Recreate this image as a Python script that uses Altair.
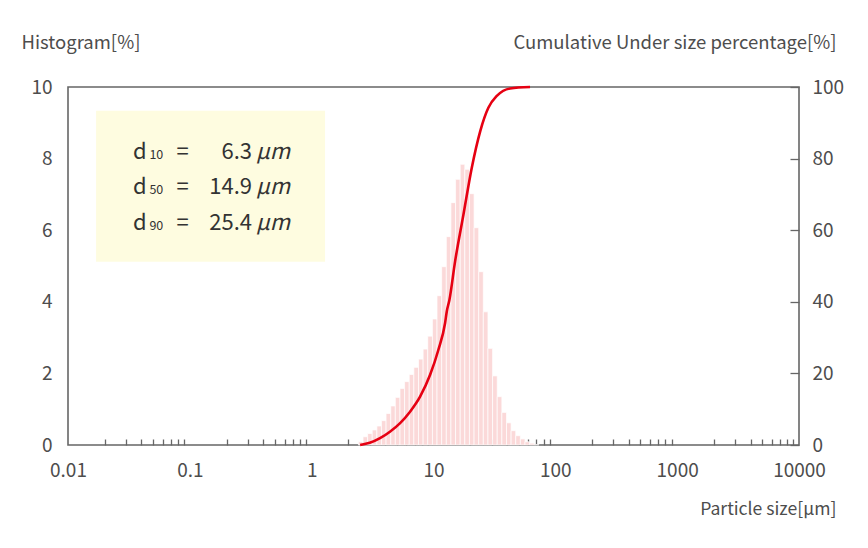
import altair as alt
import pandas as pd

# histogram bins (particle size, µm) and frequency (%)
BIN_EDGES = [2.42, 2.64, 2.88, 3.14, 3.43, 3.74, 4.08, 4.46, 4.86, 5.31,
             5.79, 6.32, 6.90, 7.53, 8.22, 8.97, 9.80, 10.69, 11.67, 12.74,
             13.90, 15.17, 16.56, 18.07, 19.72, 21.53, 23.50, 25.64, 27.99, 30.55,
             33.34, 36.39, 39.72, 43.35, 47.32, 51.64, 56.36, 61.52, 67.14, 73.28]
HIST_PCT = [0.09, 0.23, 0.32, 0.42, 0.53, 0.68, 0.88, 1.09, 1.33, 1.58,
            1.77, 1.97, 2.17, 2.40, 2.68, 3.04, 3.52, 4.17, 4.98, 5.82,
            6.77, 7.42, 7.84, 7.70, 7.02, 6.07, 4.84, 3.72, 2.70, 1.93,
            1.35, 0.91, 0.62, 0.40, 0.26, 0.17, 0.09, 0.05, 0.01]

# cumulative undersize curve
CUM_SIZE = [2.50, 3.00, 3.64, 4.39, 5.32, 6.42, 7.76, 9.38, 10.97, 12.45,
            12.85, 13.52, 15.04, 17.6, 20.6, 24.2, 28.2, 33.1, 42.6, 62.0]
CUM_PCT = [0.0, 0.6, 1.9, 3.7, 6.1, 9.3, 13.5, 19.6, 26.6, 34.1,
           37.3, 40.6, 51.3, 64.3, 77.4, 87.7, 94.2, 97.5, 99.6, 100.0]

DECADES = [0.01, 0.1, 1, 10, 100, 1000, 10000]
MINOR_STEPS = [2, 3, 4, 5, 6, 7, 8, 9]
HIST_TICKS = [0, 2, 4, 6, 8, 10]
CUM_TICKS = [0, 20, 40, 60, 80, 100]

D_SUBS = ["10", "50", "90"]
D_VALUES = ["6.3", "14.9", "25.4"]
D_ROWS = [8, 7, 6]

FONT = "Noto Sans CJK JP"
TEXT_GREY = "#4d4d4d"
FRAME_GREY = "#666666"
RED = "#e60012"

x_ticks = DECADES + [round(m * d, 6) for d in DECADES[:-1] for m in MINOR_STEPS]
is_decade = "abs(log(datum.value)/LN10 - round(log(datum.value)/LN10)) < 0.001"

# every layer gets the same explicit domains, so independent scales line up exactly
x_scale = alt.Scale(type="log", domain=[0.01, 10000])
y_hist = alt.Scale(domain=[0, 10])
y_cum = alt.Scale(domain=[0, 100])

x_axis = alt.Axis(
    values=x_ticks, format="~g", labelExpr=f"{is_decade} ? datum.label : ''",
    labelFlush=False, labelOverlap=False, labelPadding=16,
    offset=-6, tickSize=6, domain=False,
    gridOpacity={"condition": {"test": is_decade, "value": 1}, "value": 0},
    tickOpacity={"condition": {"test": is_decade, "value": 0}, "value": 1},
    title="Particle size[µm]", titleAlign="right", titleAnchor="start",
    titleX=768, titleY=75, titleBaseline="alphabetic", titleFontSize=17.6,
)
left_axis = alt.Axis(
    orient="left", values=HIST_TICKS, tickSize=0, ticks=False, domain=False, labelPadding=16,
    title="Histogram[%]", titleAngle=0, titleAlign="left", titleAnchor="start",
    titleX=-47, titleY=-39, titleBaseline="alphabetic",
)
right_axis = alt.Axis(
    orient="right", values=CUM_TICKS, offset=-9, tickSize=9, domain=False,
    grid=False, labelPadding=13,
    title="Cumulative Under size percentage[%]", titleAngle=0, titleAlign="right",
    titleAnchor="start", titleX=46, titleY=-39, titleBaseline="alphabetic",
)

hist = pd.DataFrame({"lo": BIN_EDGES[:-1], "hi": BIN_EDGES[1:], "pct": HIST_PCT})
cum = pd.DataFrame({"size": CUM_SIZE, "pct": CUM_PCT})
dvals = pd.DataFrame({"sub": D_SUBS, "val": D_VALUES, "row": D_ROWS})
box = pd.DataFrame({"x0": [0.017], "x1": [1.288], "y0": [5.12], "y1": [9.34]})

bars = alt.Chart(hist).mark_rect(fill="#fbd9d9", stroke="white", strokeWidth=0.7).encode(
    x=alt.X("lo:Q", scale=x_scale, axis=x_axis),
    x2="hi:Q",
    y=alt.Y("pct:Q", scale=y_hist, axis=left_axis),
    y2=alt.datum(0),
)

box_rect = alt.Chart(box).mark_rect(fill="#fefce0").encode(
    x=alt.X("x0:Q", scale=x_scale, axis=None),
    x2="x1:Q",
    y=alt.Y("y0:Q", scale=y_hist, axis=None),
    y2="y1:Q",
)


def box_text(text_x, align, size, **kw):
    return alt.Chart(dvals).mark_text(
        align=align, baseline="alphabetic", font=FONT, fontSize=size, color="#333333", **kw
    ).encode(
        x=alt.X(datum=text_x, scale=x_scale, axis=None),
        y=alt.Y("row:Q", scale=y_hist, axis=None),
    )


d_char = box_text(0.0342, "left", 22, text="d")
d_sub = box_text(0.0466, "left", 12.5).encode(text="sub:N")
eq = box_text(0.0871, "center", 22, text="=")
num = box_text(0.324, "right", 22).encode(text="val:N")
unit = box_text(0.3496, "left", 22, text="µm", fontStyle="italic")

curve = alt.Chart(cum).mark_line(color=RED, strokeWidth=2.6, interpolate="monotone").encode(
    x=alt.X("size:Q", scale=x_scale, axis=None),
    y=alt.Y("pct:Q", scale=y_cum, axis=right_axis),
)

chart = alt.layer(box_rect, bars, d_char, d_sub, eq, num, unit, curve).resolve_scale(
    x="independent", y="independent"
).properties(
    width=731, height=358,
    autosize=alt.AutoSizeParams(type="none"),
    padding={"left": 60, "top": 79, "right": 61, "bottom": 95},
    background="white",
).configure_axis(
    labelFont=FONT, labelFontSize=19, labelColor=TEXT_GREY,
    titleFont=FONT, titleFontSize=18.5, titleFontWeight="normal", titleColor=TEXT_GREY,
    tickColor=FRAME_GREY, tickWidth=1.3,
    gridColor="#e4e4e4", gridWidth=1.2,
).configure_view(
    stroke=FRAME_GREY, strokeWidth=1.6,
)

chart.save("out.html", embed_options={"renderer": "svg", "actions": False})
